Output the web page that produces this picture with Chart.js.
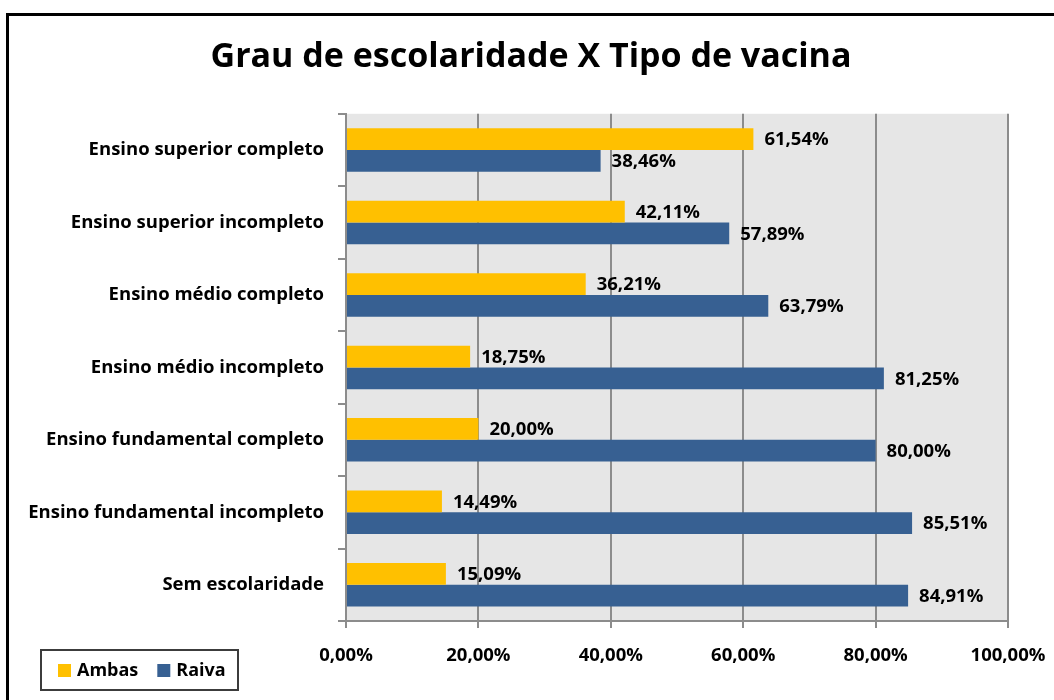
<!DOCTYPE html>
<html lang="pt">
<head>
  <meta charset="UTF-8" />
  <title>Grau de escolaridade X Tipo de vacina</title>
  <script src="https://cdn.jsdelivr.net/npm/chart.js"></script>
  <style>
    body { margin: 0; background: white; }
    #wrap { position: relative; width: 1054px; height: 700px; }
  </style>
</head>
<body>
  <div id="wrap"><canvas id="chart" width="1054" height="700"></canvas></div>
  <script>
    const categories = [
      "Ensino superior completo",
      "Ensino superior incompleto",
      "Ensino médio completo",
      "Ensino médio incompleto",
      "Ensino fundamental completo",
      "Ensino fundamental incompleto",
      "Sem escolaridade"
    ];
    const ambas = [61.54, 42.11, 36.21, 18.75, 20.00, 14.49, 15.09];
    const raiva = [38.46, 57.89, 63.79, 81.25, 80.00, 85.51, 84.91];
    const xTicks = [0, 20, 40, 60, 80, 100];

    const FONT = "'Open Sans', 'Noto Sans', sans-serif";
    const SMALL = 18.5;
    const pct = v => v.toFixed(2).replace(".", ",") + "%";

    // grey plot background + outer frame
    const backdrop = {
      id: "backdrop",
      beforeDraw(chart) {
        const { ctx, chartArea: a } = chart;
        ctx.save();
        ctx.fillStyle = "#e6e6e6";
        ctx.fillRect(a.left, a.top, a.right - a.left, a.bottom - a.top);
        ctx.strokeStyle = "#000";
        ctx.lineWidth = 3;
        ctx.beginPath();
        ctx.moveTo(1060, 14.5);
        ctx.lineTo(7.5, 14.5);
        ctx.lineTo(7.5, 710);
        ctx.stroke();
        ctx.restore();
      }
    };

    // value labels right of each bar
    const barLabels = {
      id: "barLabels",
      afterDatasetsDraw(chart) {
        const { ctx } = chart;
        ctx.save();
        ctx.font = "bold " + SMALL + "px " + FONT;
        ctx.fillStyle = "#000";
        ctx.textBaseline = "middle";
        chart.data.datasets.forEach((ds, i) => {
          chart.getDatasetMeta(i).data.forEach((bar, j) => {
            ctx.fillText(pct(ds.data[j]), bar.x + 11, bar.y + 1);
          });
        });
        ctx.restore();
      }
    };

    // boxed legend at bottom left
    const boxLegend = {
      id: "boxLegend",
      afterDraw(chart) {
        const { ctx } = chart;
        ctx.save();
        ctx.strokeStyle = "#3c3c3c";
        ctx.lineWidth = 2;
        ctx.strokeRect(41, 650, 197, 40);
        ctx.font = "bold 18px " + FONT;
        ctx.textBaseline = "middle";
        let x = 58;
        chart.data.datasets.forEach(ds => {
          ctx.fillStyle = ds.backgroundColor;
          ctx.fillRect(x, 664, 13, 13);
          ctx.fillStyle = "#000";
          ctx.fillText(ds.label, x + 19, 671);
          x += 19 + ctx.measureText(ds.label).width + 19;
        });
        ctx.restore();
      }
    };

    new Chart(document.getElementById("chart"), {
      type: "bar",
      data: {
        labels: categories,
        datasets: [
          { label: "Ambas", data: ambas, backgroundColor: "#ffc000" },
          { label: "Raiva", data: raiva, backgroundColor: "#376092" }
        ]
      },
      options: {
        indexAxis: "y",
        responsive: false,
        animation: false,
        layout: { padding: { left: 8, right: 0, top: 0, bottom: 0 } },
        datasets: { bar: { categoryPercentage: 0.6, barPercentage: 1.0 } },
        plugins: {
          legend: { display: false },
          tooltip: { enabled: false },
          title: {
            display: true,
            text: "Grau de escolaridade X Tipo de vacina",
            color: "#000",
            font: { family: FONT, size: 34, weight: "bold" },
            padding: { top: 37, bottom: 36 }
          }
        },
        scales: {
          x: {
            min: 0,
            max: 100,
            afterBuildTicks: s => { s.ticks = xTicks.map(v => ({ value: v })); },
            ticks: {
              callback: v => pct(v),
              color: "#000",
              font: { family: FONT, size: SMALL, weight: "bold" },
              padding: 17,
              maxRotation: 0
            },
            grid: { color: "#8c8c8c", lineWidth: 2, tickLength: 7 },
            border: { color: "#8c8c8c", width: 2 },
            afterFit: s => { s.height = 79; s.paddingLeft = 0; s.paddingRight = 46; }
          },
          y: {
            ticks: {
              color: "#000",
              font: { family: FONT, size: SMALL, weight: "bold" },
              padding: 14
            },
            grid: { offset: true, drawOnChartArea: false, color: "#8c8c8c", lineWidth: 2, tickLength: 8 },
            border: { color: "#8c8c8c", width: 2 },
            afterFit: s => { s.width = 338; }
          }
        }
      },
      plugins: [backdrop, barLabels, boxLegend]
    });
  </script>
</body>
</html>
